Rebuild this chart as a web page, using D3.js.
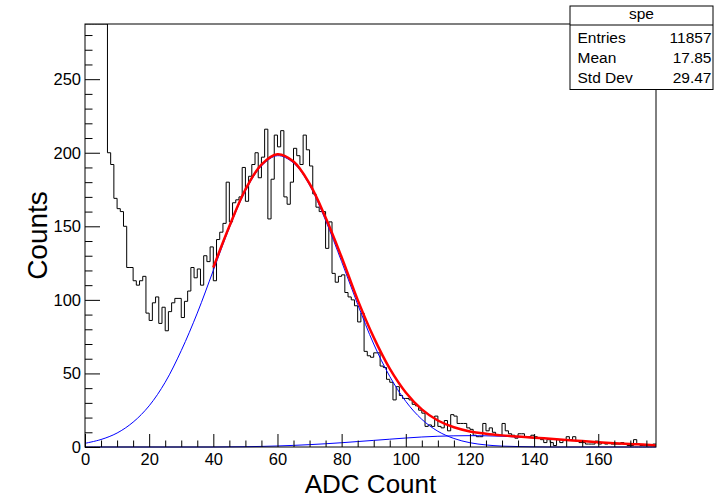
<!DOCTYPE html>
<html>
<head>
<meta charset="utf-8">
<script src="https://cdn.jsdelivr.net/npm/d3@7/dist/d3.min.js"></script>
<style>
  body { margin: 0; background: #fff; }
  text { font-family: "Liberation Sans", Arial, Helvetica, sans-serif; }
</style>
</head>
<body>
<div id="chart"></div>
<script>
// bin contents of "spe", one bin per ADC count (0..177); bins 0-6 are off scale
var counts = [
  1500, 1300, 1000, 700, 500, 380, 300, 200, 192, 169,
  162, 160, 150, 122, 122, 113, 110, 113, 116, 91,
  86, 98, 102, 84, 95, 79, 92, 98, 101, 101,
  88, 99, 106, 122, 115, 121, 110, 130, 126, 136,
  113, 141, 146, 152, 180, 153, 166, 168, 170, 190,
  167, 184, 192, 200, 183, 197, 216, 155, 182, 212,
  204, 215, 170, 165, 180, 203, 198, 192, 212, 202,
  191, 172, 163, 160, 160, 135, 153, 118, 112, 116,
  117, 105, 102, 100, 96, 85, 91, 65, 62, 61,
  64, 64, 55, 54, 46, 44, 32, 41, 35, 33,
  33, 32, 29, 28, 25, 23, 14, 15, 14, 21,
  14, 13, 18, 11, 22, 21, 16, 16, 16, 13,
  12, 8, 7, 7, 16, 11, 13, 10, 8, 8,
  16, 11, 9, 8, 6, 9, 9, 7, 7, 8,
  7, 6, 5, 3, 5, 3, 1, 5, 3, 5,
  7, 5, 7, 4, 3, 3, 2, 2, 2, 4,
  2, 3, 2, 3, 2, 2, 2, 3, 2, 1,
  1, 5, 2, 1, 1, 1, 1, 2
];

// fit curves
var fitX = [0, 5, 10, 15, 20, 25, 30, 35, 40, 45, 50, 55, 60, 65, 70, 75, 80, 85, 90,
  95, 100, 105, 110, 115, 120, 125, 130, 135, 140, 145, 150, 155, 160, 165, 170, 175, 178];
var gaus1 = [2.5, 5.1, 9.5, 16.9, 28, 44, 65.5, 91, 120, 149, 174, 191, 198, 193, 178, 154, 126, 97, 70,
  48, 31, 18.8, 10.7, 5.8, 2.9, 1.4, 0.6, 0.3, 0.1, 0, 0, 0, 0, 0, 0, 0, 0];
var gaus2 = [0, 0, 0, 0, 0, 0, 0, 0, 0, 0.1, 0.2, 0.4, 0.7, 1.1, 1.6, 2.2, 2.9, 3.7, 4.5,
  5.3, 6.1, 6.8, 7.3, 7.6, 7.7, 7.6, 7.3, 6.8, 6.2, 5.5, 4.8, 4.0, 3.3, 2.6, 2.0, 1.5, 1.0];
var totalX = [40, 45, 50, 55, 60, 65, 70, 75, 80, 85, 90, 95, 100, 105, 110, 115, 120,
  125, 130, 135, 140, 145, 150, 155, 160, 165, 170, 175, 178];
var total = [122, 150, 175, 192, 199, 194, 179, 156, 129, 100, 74.5, 53.3, 37.1, 25.6, 18, 13.4, 10.6,
  9.0, 7.9, 7.1, 6.3, 5.6, 4.8, 4.0, 3.3, 2.6, 2.0, 1.5, 1.0];

var xMajor = [0, 20, 40, 60, 80, 100, 120, 140, 160];
var yMajor = [0, 50, 100, 150, 200, 250];

var statLabels = ['Entries', 'Mean', 'Std Dev'];
var statValues = ['11857', '17.85', '29.47'];

var W = 728, H = 501;
var margin = {top: 24, right: 72, bottom: 54, left: 85},
  width = W - margin.left - margin.right,
  height = H - margin.top - margin.bottom;

var svg = d3.select('#chart').append('svg')
  .attr('width', W).attr('height', H);

var g = svg.append('g')
  .attr('transform', 'translate(' + margin.left + ',' + margin.top + ')');

var x = d3.scaleLinear().domain([0, 178]).range([0, width]);
var y = d3.scaleLinear().domain([0, 287.5]).range([height, 0]);

g.append('clipPath').attr('id', 'frame')
  .append('rect').attr('width', width).attr('height', height);

// histogram as steps
var steps = counts.map(function (c, i) { return [i, c]; });
steps.push([counts.length, counts[counts.length - 1]]);
g.append('path')
  .attr('clip-path', 'url(#frame)')
  .attr('d', d3.line()
    .x(function (d) { return x(d[0]); })
    .y(function (d) { return y(Math.min(d[1], 287.5)); })
    .curve(d3.curveStepAfter)(steps))
  .style('fill', 'none')
  .style('stroke', '#000')
  .style('stroke-width', 1);

function fitLine(xs, ys) {
  return d3.line()
    .x(function (d, i) { return x(xs[i]); })
    .y(function (d) { return y(d); })
    .curve(d3.curveCatmullRom)(ys);
}

g.append('path').attr('d', fitLine(fitX, gaus1))
  .style('fill', 'none').style('stroke', '#0000ff').style('stroke-width', 1);
g.append('path').attr('d', fitLine(fitX, gaus2))
  .style('fill', 'none').style('stroke', '#0000ff').style('stroke-width', 1);
g.append('path').attr('d', fitLine(totalX, total))
  .style('fill', 'none').style('stroke', '#ff0000').style('stroke-width', 2.5);

// axes, ticks pointing into the frame
var xMinor = d3.range(0, 179, 5).filter(function (v) { return v % 20 != 0; });
var yMinor = d3.range(0, 288, 10).filter(function (v) { return v % 50 != 0; });

g.append('g').attr('transform', 'translate(0,' + height + ')')
  .call(d3.axisBottom(x).tickValues(xMajor).tickSizeInner(-13).tickSizeOuter(0).tickPadding(6))
  .call(function (a) { a.select('.domain').remove(); });
g.append('g').attr('transform', 'translate(0,' + height + ')')
  .call(d3.axisBottom(x).tickValues(xMinor).tickSizeInner(-6.5).tickSizeOuter(0).tickFormat(''))
  .call(function (a) { a.select('.domain').remove(); });
g.append('g')
  .call(d3.axisLeft(y).tickValues(yMajor).tickSizeInner(-15).tickSizeOuter(0).tickPadding(4))
  .call(function (a) { a.select('.domain').remove(); });
g.append('g')
  .call(d3.axisLeft(y).tickValues(yMinor).tickSizeInner(-7.5).tickSizeOuter(0).tickFormat(''))
  .call(function (a) { a.select('.domain').remove(); });

g.selectAll('.tick text')
  .style('font-size', '16.5px')
  .style('font-family', '"Liberation Sans", Arial, sans-serif')
  .style('fill', '#000');
g.selectAll('.tick line').style('stroke', '#000');

// frame
g.append('rect')
  .attr('width', width).attr('height', height)
  .style('fill', 'none').style('stroke', '#000').style('stroke-width', 1);

// axis titles
svg.append('text')
  .attr('x', margin.left + width / 2).attr('y', 493)
  .style('text-anchor', 'middle').style('font-size', '26px')
  .text('ADC Count');
svg.append('text')
  .attr('transform', 'translate(47,' + (margin.top + height / 2) + ') rotate(-90)')
  .style('text-anchor', 'middle').style('font-size', '28px')
  .text('Counts');

// stats box
var box = svg.append('g').attr('transform', 'translate(570,6)');
box.append('rect').attr('width', 143).attr('height', 83.5)
  .style('fill', '#fff').style('stroke', '#000').style('stroke-width', 1);
box.append('line').attr('x1', 0).attr('x2', 143).attr('y1', 19).attr('y2', 19)
  .style('stroke', '#000');
box.append('text').attr('x', 71.5).attr('y', 12.5)
  .style('text-anchor', 'middle').style('font-size', '15.5px').text('spe');
box.selectAll('.lab').data(statLabels).enter().append('text')
  .attr('x', 7.5).attr('y', function (d, i) { return 37 + i * 20; })
  .style('font-size', '15.5px').text(function (d) { return d; });
box.selectAll('.val').data(statValues).enter().append('text')
  .attr('x', 141.5).attr('y', function (d, i) { return 37 + i * 20; })
  .style('text-anchor', 'end').style('font-size', '15.5px').text(function (d) { return d; });
</script>
</body>
</html>
